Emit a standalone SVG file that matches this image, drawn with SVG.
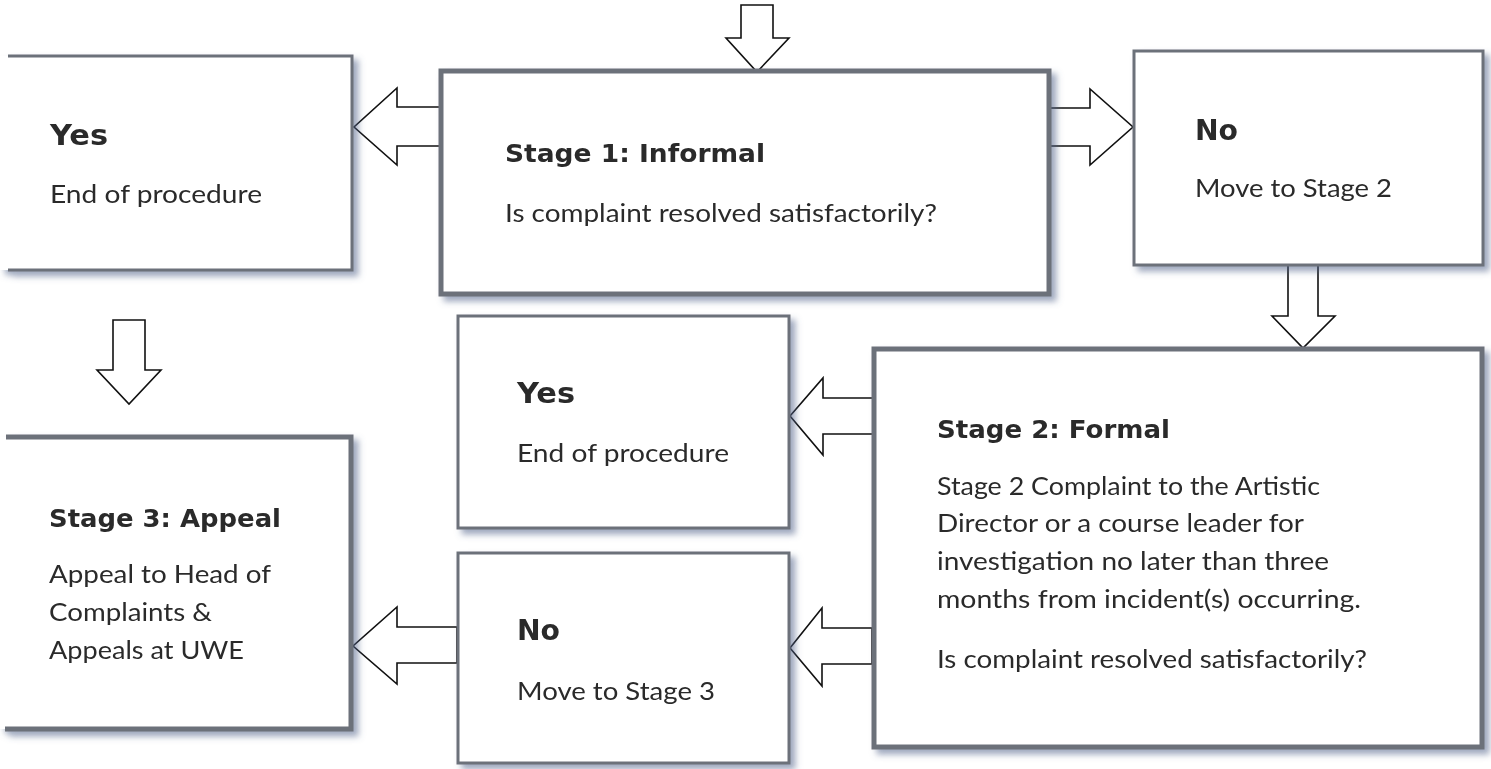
<svg xmlns="http://www.w3.org/2000/svg" width="1491" height="769" viewBox="0 0 1491 769">
<defs>
<filter id="sh" x="-10%" y="-10%" width="130%" height="130%">
<feDropShadow dx="5" dy="5" stdDeviation="3" flood-color="#4f6288" flood-opacity="0.55"/>
</filter>
</defs>
<style>
.box{fill:#fff;stroke:#6c717a;stroke-width:3}
.thick{stroke-width:5}
.arr{fill:#fff;stroke:#111;stroke-width:1.6;stroke-linejoin:miter}
.h{font-family:"DejaVu Sans",Verdana,sans-serif;font-weight:bold;font-size:25px;fill:#2b2b2b}
.big{font-size:28px}
.t{font-family:Lato,"Open Sans",sans-serif;font-size:25px;fill:#2b2b2b}
</style>
<rect width="1491" height="769" fill="#fff"/>
<g id="connectors">
<path class="arr" d="M741,5 H773 V38 H789 L757,72 L726,38 H741 Z"/>
<path class="arr" d="M441,107 H397 V88 L354,127 L397,165 V146 H441 Z"/>
<path class="arr" d="M1048,108 H1090 V89 L1133,127 L1090,165 V146 H1048 Z"/>
<path class="arr" d="M1288,265 H1318 V316 H1335 L1303,348 L1272,316 H1288 Z"/>
<path class="arr" d="M113,320 H145 V370 H161 L129,404 L97,370 H113 Z"/>
<path class="arr" d="M874,398 H823 V378 L790,416 L823,455 V434 H874 Z"/>
<path class="arr" d="M872,628 H822 V608 L790,648 L822,686 V664 H872 Z"/>
<path class="arr" d="M457,627 H397 V607 L353,646 L397,684 V663 H457 Z"/>
</g>
<g id="yes1" filter="url(#sh)">
<rect x="0" y="56" width="352" height="214" fill="#fff"/>
<path class="box" d="M8,56 H352 V270 H8" fill="none"/>
<text class="h big" x="50" y="145" textLength="58" lengthAdjust="spacingAndGlyphs">Yes</text>
<text class="t" x="50" y="203" textLength="212" lengthAdjust="spacingAndGlyphs">End of procedure</text>
</g>
<g id="stage1" filter="url(#sh)">
<rect class="box thick" x="441" y="71" width="608" height="223"/>
<text class="h" x="505" y="162" textLength="260" lengthAdjust="spacingAndGlyphs">Stage 1: Informal</text>
<text class="t" x="505" y="222" textLength="432" lengthAdjust="spacingAndGlyphs">Is complaint resolved satisfactorily?</text>
</g>
<g id="no1" filter="url(#sh)">
<rect class="box" x="1134" y="51" width="349" height="214"/>
<text class="h big" x="1195" y="140" textLength="43" lengthAdjust="spacingAndGlyphs">No</text>
<text class="t" x="1195" y="197" textLength="197" lengthAdjust="spacingAndGlyphs">Move to Stage 2</text>
</g>
<g id="stage2" filter="url(#sh)">
<rect class="box thick" x="874" y="349" width="608" height="398"/>
<text class="h" x="937" y="438" textLength="233" lengthAdjust="spacingAndGlyphs">Stage 2: Formal</text>
<text class="t" x="937" y="495" textLength="383" lengthAdjust="spacingAndGlyphs">Stage 2 Complaint to the Artistic</text>
<text class="t" x="937" y="532" textLength="367" lengthAdjust="spacingAndGlyphs">Director or a course leader for</text>
<text class="t" x="937" y="570" textLength="392" lengthAdjust="spacingAndGlyphs">investigation no later than three</text>
<text class="t" x="937" y="608" textLength="424" lengthAdjust="spacingAndGlyphs">months from incident(s) occurring.</text>
<text class="t" x="937" y="668" textLength="430" lengthAdjust="spacingAndGlyphs">Is complaint resolved satisfactorily?</text>
</g>
<g id="yes2" filter="url(#sh)">
<rect class="box" x="458" y="316" width="331" height="212"/>
<text class="h big" x="517" y="403" textLength="58" lengthAdjust="spacingAndGlyphs">Yes</text>
<text class="t" x="517" y="462" textLength="212" lengthAdjust="spacingAndGlyphs">End of procedure</text>
</g>
<g id="no2" filter="url(#sh)">
<rect class="box" x="458" y="553" width="331" height="210"/>
<text class="h big" x="517" y="640" textLength="43" lengthAdjust="spacingAndGlyphs">No</text>
<text class="t" x="517" y="700" textLength="198" lengthAdjust="spacingAndGlyphs">Move to Stage 3</text>
</g>
<g id="stage3" filter="url(#sh)">
<rect x="0" y="437" width="351" height="292" fill="#fff"/>
<path class="box thick" d="M6,437 H351 V729 H5" fill="none"/>
<text class="h" x="49" y="527" textLength="232" lengthAdjust="spacingAndGlyphs">Stage 3: Appeal</text>
<text class="t" x="49" y="583" textLength="222" lengthAdjust="spacingAndGlyphs">Appeal to Head of</text>
<text class="t" x="49" y="621" textLength="163" lengthAdjust="spacingAndGlyphs">Complaints &amp;</text>
<text class="t" x="49" y="659" textLength="195" lengthAdjust="spacingAndGlyphs">Appeals at UWE</text>
</g>
</svg>
